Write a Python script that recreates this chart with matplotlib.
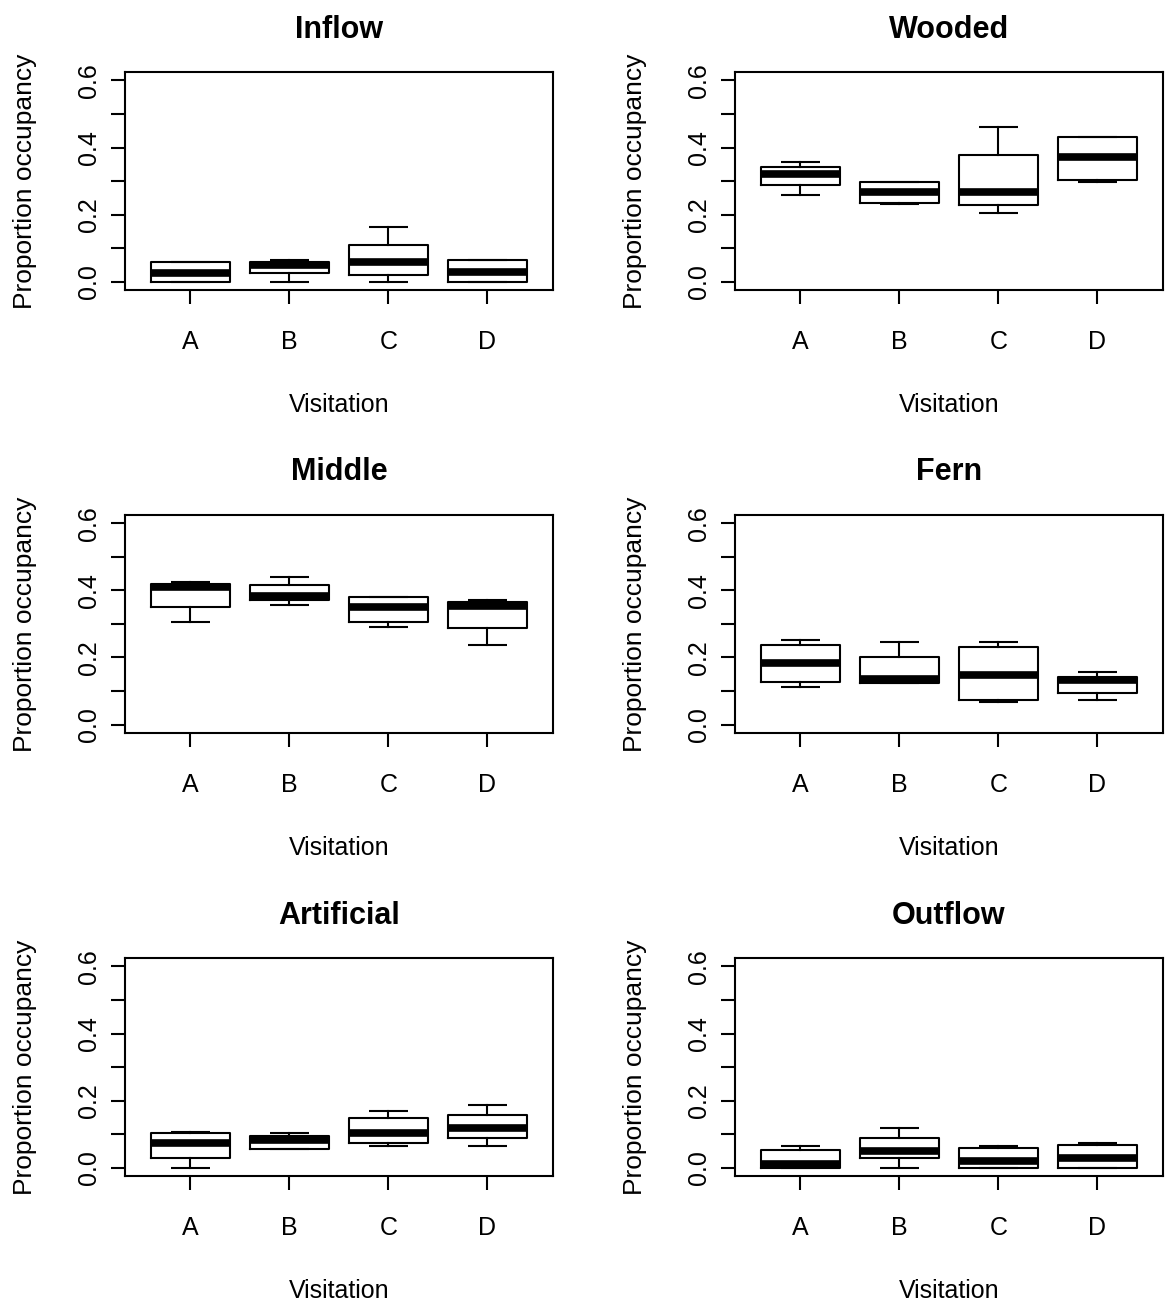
import matplotlib
matplotlib.use('Agg')
import matplotlib.pyplot as plt

plt.rcParams['font.family'] = ['Liberation Sans', 'DejaVu Sans']

categories = ['A', 'B', 'C', 'D']
panel_titles = ['Inflow', 'Wooded', 'Middle', 'Fern', 'Artificial', 'Outflow']
ytick_values = [0.0, 0.1, 0.2, 0.3, 0.4, 0.5, 0.6]
ytick_labels = ['0.0', '', '0.2', '', '0.4', '', '0.6']
x_label = 'Visitation'
y_label = 'Proportion occupancy'

# five-number summaries per panel (A, B, C, D)
inflow_whislo = [0.0, 0.0, 0.0, 0.0]
inflow_q1 = [0.0, 0.028, 0.02, 0.0]
inflow_med = [0.028, 0.051, 0.058, 0.029]
inflow_q3 = [0.059, 0.059, 0.111, 0.066]
inflow_whishi = [0.059, 0.066, 0.164, 0.066]

wooded_whislo = [0.26, 0.231, 0.206, 0.298]
wooded_q1 = [0.29, 0.236, 0.229, 0.305]
wooded_med = [0.322, 0.268, 0.268, 0.372]
wooded_q3 = [0.341, 0.298, 0.379, 0.432]
wooded_whishi = [0.358, 0.298, 0.462, 0.432]

middle_whislo = [0.305, 0.357, 0.29, 0.237]
middle_q1 = [0.35, 0.37, 0.305, 0.288]
middle_med = [0.409, 0.383, 0.349, 0.354]
middle_q3 = [0.418, 0.417, 0.381, 0.365]
middle_whishi = [0.425, 0.44, 0.381, 0.372]

fern_whislo = [0.111, 0.125, 0.067, 0.073]
fern_q1 = [0.126, 0.125, 0.072, 0.093]
fern_med = [0.185, 0.137, 0.147, 0.133]
fern_q3 = [0.238, 0.2, 0.231, 0.141]
fern_whishi = [0.253, 0.246, 0.246, 0.156]

artificial_whislo = [0.0, 0.057, 0.066, 0.066]
artificial_q1 = [0.028, 0.057, 0.074, 0.088]
artificial_med = [0.074, 0.082, 0.103, 0.118]
artificial_q3 = [0.103, 0.096, 0.149, 0.156]
artificial_whishi = [0.108, 0.103, 0.17, 0.186]

outflow_whislo = [0.0, 0.0, 0.0, 0.0]
outflow_q1 = [0.0, 0.029, 0.0, 0.0]
outflow_med = [0.011, 0.051, 0.021, 0.03]
outflow_q3 = [0.052, 0.088, 0.059, 0.067]
outflow_whishi = [0.066, 0.118, 0.065, 0.074]

panels = [
    (inflow_whislo, inflow_q1, inflow_med, inflow_q3, inflow_whishi),
    (wooded_whislo, wooded_q1, wooded_med, wooded_q3, wooded_whishi),
    (middle_whislo, middle_q1, middle_med, middle_q3, middle_whishi),
    (fern_whislo, fern_q1, fern_med, fern_q3, fern_whishi),
    (artificial_whislo, artificial_q1, artificial_med, artificial_q3, artificial_whishi),
    (outflow_whislo, outflow_q1, outflow_med, outflow_q3, outflow_whishi),
]

fig = plt.figure(figsize=(11.65, 13.04), dpi=100)
fig.patch.set_facecolor('white')

col_left = [0.1073, 0.6309]
row_bottom = [0.7776, 0.4381, 0.0982]
ax_w, ax_h = 0.3671, 0.1669

lw = 1.5
positions = list(range(1, len(categories) + 1))

for i, (title, data) in enumerate(zip(panel_titles, panels)):
    r, c = divmod(i, 2)
    ax = fig.add_axes([col_left[c], row_bottom[r], ax_w, ax_h])
    wlo, q1, med, q3, whi = data
    stats = []
    for k in range(len(categories)):
        stats.append(dict(whislo=wlo[k], q1=q1[k], med=med[k], q3=q3[k],
                          whishi=whi[k], fliers=[], label=categories[k]))
    ax.bxp(stats, positions=positions, widths=0.8, showfliers=False,
           boxprops=dict(color='black', linewidth=lw),
           medianprops=dict(color='black', linewidth=5.5, solid_capstyle='butt'),
           whiskerprops=dict(color='black', linewidth=lw, linestyle='-'),
           capprops=dict(color='black', linewidth=lw, solid_capstyle='butt'))
    ax.set_xlim(0.34, 4.66)
    ax.set_ylim(-0.024, 0.624)
    ax.set_xticks(positions)
    ax.set_xticklabels(categories)
    ax.set_yticks(ytick_values)
    ax.set_yticklabels(ytick_labels, rotation=90, va='center')
    for sp in ax.spines.values():
        sp.set_linewidth(lw)
        sp.set_color('black')
    ax.tick_params(axis='both', direction='out', length=10, width=lw,
                   labelsize=18, colors='black')
    ax.tick_params(axis='x', pad=19)
    ax.tick_params(axis='y', pad=7)
    ax.set_title(title, fontsize=22, fontweight='bold', pad=25)
    ax.set_xlabel(x_label, fontsize=18)
    ax.set_ylabel(y_label, fontsize=19)
    ax.xaxis.set_label_coords(0.5, -0.475)
    ax.yaxis.set_label_coords(-0.205, 0.5)

fig.savefig('out.png', dpi=100, facecolor='white')
